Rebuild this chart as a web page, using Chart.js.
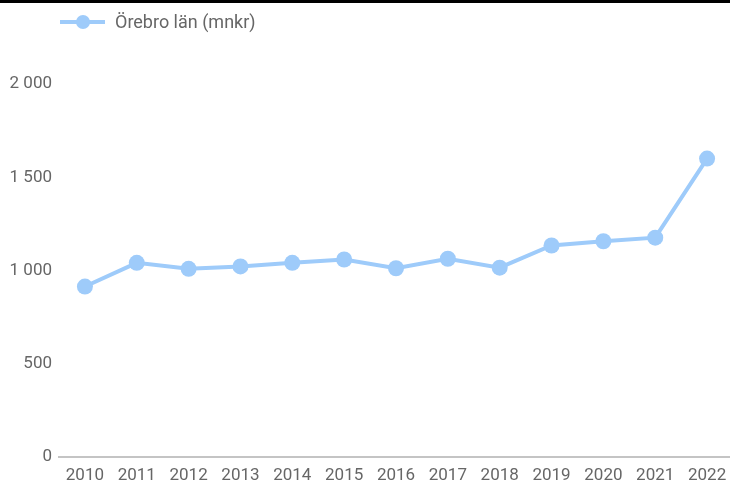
<!DOCTYPE html>
<html>
<head>
<meta charset="utf-8">
<script src="https://cdn.jsdelivr.net/npm/chart.js@4/dist/chart.umd.min.js"></script>
<style>
  html, body { margin: 0; padding: 0; background: #fff; overflow: hidden; }
  #wrap { position: relative; width: 741px; height: 481px; }
  #topbar { position: absolute; left: 0; top: 0; width: 730px; height: 3px; background: #000; z-index: 2; }
  #c { display: block; width: 741px; height: 481px; }
</style>
</head>
<body>
<div id="wrap">
  <div id="topbar"></div>
  <canvas id="c" width="741" height="481"></canvas>
</div>
<script>
const categories = ['2010','2011','2012','2013','2014','2015','2016','2017','2018','2019','2020','2021','2022'];
const seriesName = 'Örebro län (mnkr)';
const values = [914, 1041, 1009, 1022, 1041, 1059, 1012, 1063, 1015, 1134, 1157, 1176, 1600];
const yTicks = [0, 500, 1000, 1500, 2000];

const lineColor = 'rgb(158,203,250)';
const textColor = '#666666';
const fontFamily = 'Roboto, "Noto Sans", sans-serif';

function fmt(v) {
  return String(v).replace(/\B(?=(\d{3})+(?!\d))/g, ' ');
}

const legendPlugin = {
  id: 'customLegend',
  afterDraw(chart) {
    const ctx = chart.ctx;
    ctx.save();
    ctx.strokeStyle = lineColor;
    ctx.lineWidth = 4;
    ctx.beginPath();
    ctx.moveTo(60, 22);
    ctx.lineTo(105, 22);
    ctx.stroke();
    ctx.fillStyle = lineColor;
    ctx.beginPath();
    ctx.arc(83, 22, 7, 0, Math.PI * 2);
    ctx.fill();
    ctx.fillStyle = textColor;
    ctx.font = '18px ' + fontFamily;
    ctx.textBaseline = 'middle';
    ctx.textAlign = 'left';
    ctx.fillText(chart.data.datasets[0].label, 115, 23);
    ctx.restore();
  }
};

new Chart(document.getElementById('c'), {
  type: 'line',
  data: {
    labels: categories,
    datasets: [{
      label: seriesName,
      data: values,
      borderColor: lineColor,
      backgroundColor: lineColor,
      borderWidth: 4,
      pointRadius: 8,
      pointHoverRadius: 8,
      pointBackgroundColor: lineColor,
      pointBorderWidth: 0,
      tension: 0,
      fill: false
    }]
  },
  options: {
    responsive: false,
    animation: false,
    layout: { padding: { top: 84, right: 0, bottom: 0, left: 0 } },
    plugins: { legend: { display: false }, tooltip: { enabled: false } },
    scales: {
      x: {
        offset: true,
        grid: { display: false, drawTicks: false },
        border: { display: true, color: '#c4c4c4', width: 2 },
        ticks: { color: textColor, font: { family: fontFamily, size: 17 }, padding: 9, maxRotation: 0, autoSkip: false },
        afterFit(scale) { scale.height = 24; }
      },
      y: {
        min: 0,
        max: 2000,
        afterBuildTicks(scale) { scale.ticks = yTicks.map(v => ({ value: v })); },
        grid: { display: false, drawTicks: false },
        border: { display: false },
        ticks: { color: textColor, font: { family: fontFamily, size: 17 }, padding: 7, callback: v => fmt(v) },
        afterFit(scale) { scale.width = 59; }
      }
    }
  },
  plugins: [legendPlugin]
});
</script>
</body>
</html>
